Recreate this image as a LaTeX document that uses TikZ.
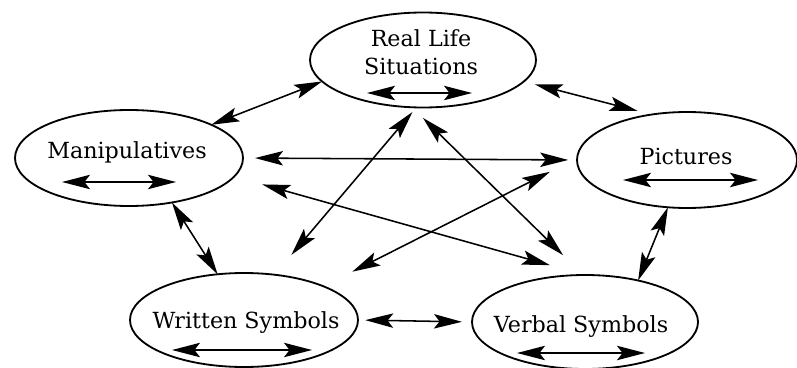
\documentclass[tikz,border=0pt]{standalone}
\usepackage{fontspec}
\setmainfont{DejaVu Serif}
\usetikzlibrary{shapes.geometric, arrows.meta, calc}

\begin{document}
\begin{tikzpicture}[
          ell/.style={ellipse, draw, line width=1.3pt, inner sep=0pt,
                      outer sep=0pt},
          lbl/.style={font=\fontsize{15.8}{20}\selectfont, inner sep=0pt},
          arr/.style={<->, >={Stealth[length=0.7cm, width=0.36cm, inset=0.14cm]},
                      line width=1.1pt}
        ]
        \useasboundingbox (0,0) rectangle (19.925,9.175);

        % the five representations
        \node[ell, minimum width=5.65cm, minimum height=2.375cm] (real) at (10.575,7.675) {};
        \node[ell, minimum width=5.7cm, minimum height=2.4cm] (man) at (3.225,5.225) {};
        \node[ell, minimum width=5.5cm, minimum height=2.4cm] (pic) at (17.175,5.175) {};
        \node[ell, minimum width=5.7cm, minimum height=2.35cm] (wri) at (6.1,1.175) {};
        \node[ell, minimum width=5.65cm, minimum height=2.35cm] (ver) at (14.625,1.125) {};

        \node[lbl, align=center] (reallbl) at ($(real.center)+(-0.05,0.2)$)
              {Real Life\\Situations};
        \node[lbl, anchor=base] (manlbl) at ($(man.center)+(-0.05,0)$) {Manipulatives};
        \node[lbl, anchor=base] (piclbl) at ($(pic.center)+(-0.025,-0.1)$) {Pictures};
        \node[lbl, anchor=base] (wrilbl) at ($(wri.center)+(0.05,-0.2)$) {Written Symbols};
        \node[lbl, anchor=base] (verlbl) at ($(ver.center)+(-0.1,-0.25)$) {Verbal Symbols};

        % arrows inside each ellipse
        \draw[arr] ($(real.center)+(-1.4,-0.825)$) -- ++(2.625,0);
        \draw[arr] ($(man.center)+(-1.675,-0.6)$) -- ++(2.85,0);
        \draw[arr] ($(pic.center)+(-1.6,-0.5)$) -- ++(3.375,0);
        \draw[arr] ($(wri.center)+(-1.8,-0.75)$) -- ++(3.5,0);
        \draw[arr] ($(ver.center)+(-1.7,-0.775)$) -- ++(3.2,0);

        % links between the representations
        \draw[arr] (man.22) -- (real.192);
        \draw[arr, shorten <=0.28cm, shorten >=0.36cm] (real.-12) -- (pic.128);
        \draw[arr, shorten <=0.3cm, shorten >=0.22cm] (man.east) -- (pic.west);
        \draw[arr, shorten <=0.73cm, shorten >=0.91cm] (man.-10) -- (ver.north);
        \draw[arr] (man.-46) -- (wri.120);
        \draw[arr, shorten <=0.15cm, shorten >=0.65cm] (real.-98) -- (wri.56);
        \draw[arr, shorten <=0.38cm, shorten >=0.71cm] (real.-103) -- (ver.92);
        \draw[arr, shorten <=0.76cm, shorten >=0.81cm] (pic.179) -- (wri.23);
        \draw[arr] (pic.-112) -- (ver.38);
        \draw[arr, shorten <=0.18cm, shorten >=0.25cm] (wri.east) -- (ver.west);
      \end{tikzpicture}
\end{document}
